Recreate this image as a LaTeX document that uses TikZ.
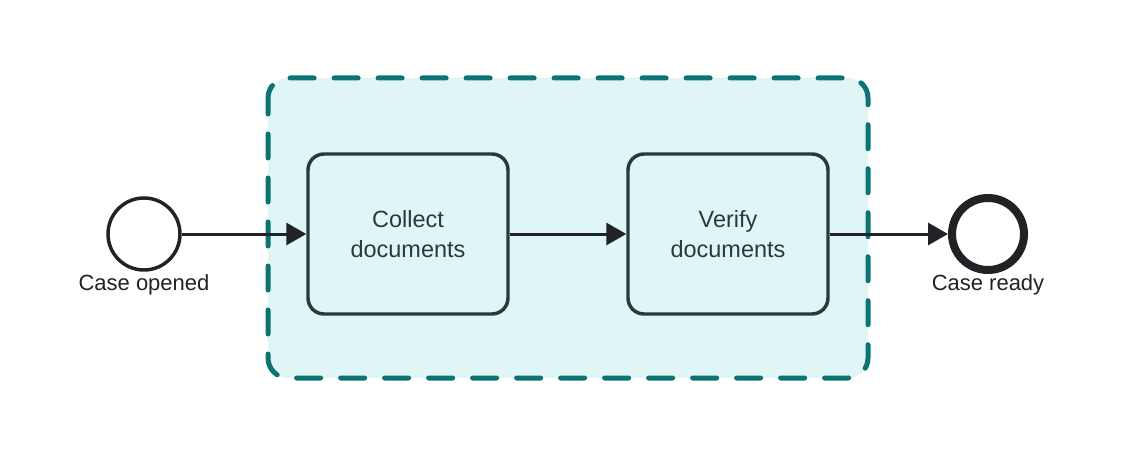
\documentclass[tikz,border=0pt]{standalone}
\usepackage{fontspec}
\setmainfont{Liberation Sans}
\usetikzlibrary{arrows.meta}
\definecolor{groupteal}{RGB}{13,115,115}
\definecolor{groupfill}{RGB}{224,245,246}
\definecolor{eventline}{RGB}{34,34,38}
\definecolor{taskline}{RGB}{38,58,64}
\tikzset{
  event/.style={circle,draw=eventline,fill=white,line width=2.6pt,minimum size=54pt,inner sep=0pt},
  endevent/.style={event,line width=6pt},
  task/.style={rectangle,rounded corners=12pt,draw=taskline,fill=groupfill,line width=2.6pt,
    minimum width=150pt,minimum height=120pt,align=center,text=taskline,
    font=\fontsize{17.6}{22}\selectfont},
  evlabel/.style={text=eventline,font=\fontsize{16.5}{20}\selectfont,inner sep=0pt},
  flow/.style={draw=eventline,line width=2.25pt,-{Triangle[length=15pt,width=16.5pt]}}
}
\begin{document}
\begin{tikzpicture}[x=0.75pt,y=0.75pt,yscale=-1,xscale=1]
\path[use as bounding box] (0,0) rectangle (1124,456);

%Group box
\draw [groupteal,fill=groupfill,line width=3.75pt,rounded corners=15pt,dash pattern=on 18pt off 15pt,dash phase=6pt,line cap=round]
  (268,78) rectangle (868,378);

% Events
\node [event] (start) at (144,234) {};
\node [endevent] (finish) at (988,234) {};

% Tasks
\node [task] (collect) at (408,234) {Collect\\documents};
\node [task] (verify) at (728,234) {Verify\\documents};

% Text Node
\node [evlabel] (startlbl) at (144,284.5) {Case opened};
% Text Node
\node [evlabel] (finishlbl) at (988,284.5) {Case ready};

% Flows
\draw [flow] (start) -- (collect);
\draw [flow] (collect) -- (verify);
\draw [flow] (verify) -- (finish);

\end{tikzpicture}
\end{document}
